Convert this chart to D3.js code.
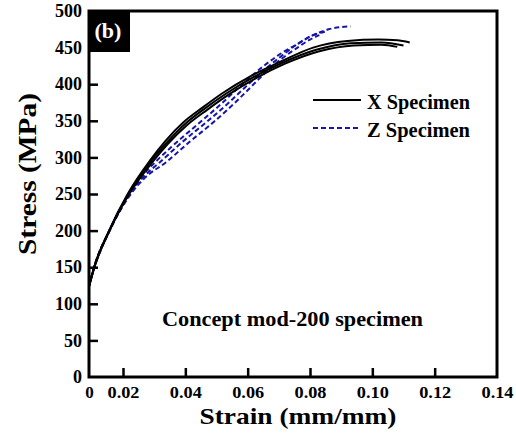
<!DOCTYPE html>
<html>
<head>
<meta charset="utf-8">
<script src="https://cdn.jsdelivr.net/npm/d3@7"></script>
<style>
  body { margin: 0; background: #fff; }
  text { font-family: "Liberation Serif", "Times New Roman", serif; font-weight: bold; }
</style>
</head>
<body>
<svg id="canvas" width="516" height="437"></svg>
<script>
// tick values and labels
const xTicks = [0, 0.02, 0.04, 0.06, 0.08, 0.10, 0.12, 0.14];
const xTickLabels = ["0", "0.02", "0.04", "0.06", "0.08", "0.10", "0.12", "0.14"];
const yTicks = [0, 50, 100, 150, 200, 250, 300, 350, 400, 450, 500];

// X specimen curves (strain, stress)
const x1 = [[0,124],[0.003,150],[0.0118,200],[0.0215,250],[0.0287,296],[0.0335,322],[0.0394,348],[0.0455,368],[0.052,388],[0.061,411],[0.0707,431],[0.081,450],[0.092,459],[0.102,461],[0.108,460],[0.112,457]];
const x2 = [[0,124],[0.0031,150],[0.012,200],[0.0218,250],[0.029,295],[0.034,320],[0.040,346],[0.046,366],[0.053,387],[0.062,410],[0.071,429],[0.082,447],[0.093,456],[0.103,457],[0.110,453]];
const x3 = [[0,123],[0.0032,150],[0.0121,200],[0.022,250],[0.0295,294],[0.0345,319],[0.0405,344],[0.047,365],[0.054,386],[0.063,409],[0.072,428],[0.083,445],[0.094,453],[0.103,454],[0.108,451]];

// Z specimen curves
const z1 = [[0,124],[0.003,150],[0.012,200],[0.022,250],[0.026,274],[0.030,292],[0.036,316],[0.045,349],[0.052,375],[0.058,399],[0.064,421],[0.070,440],[0.076,455],[0.081,467],[0.086,475],[0.093,479]];
const z2 = [[0,124],[0.003,150],[0.012,200],[0.0222,250],[0.0265,273],[0.032,294],[0.039,321],[0.047,349],[0.054,375],[0.060,399],[0.066,422],[0.071,439],[0.076,455],[0.081,467],[0.085,472]];
const z3 = [[0,125],[0.0032,150],[0.0122,200],[0.0225,250],[0.027,272],[0.034,294],[0.041,320],[0.049,348],[0.056,375],[0.061,396],[0.066,417],[0.071,435],[0.076,450],[0.080,461],[0.083,467]];

const legendLabels = ["X Specimen", "Z Specimen"];
const blue = "#1515a8";

const svg = d3.select("#canvas");
const plotLeft = 89, plotRight = 497, plotTop = 11, plotBottom = 377;

// the x axis is squeezed between 0 and 0.02 in the original figure
const xScale = d3.scaleLinear().domain([0, 0.02, 0.14]).range([plotLeft, 123, plotRight]);
const yScale = d3.scaleLinear().domain([0, 500]).range([plotBottom, plotTop]);

const line = d3.line()
    .x(d => xScale(d[0]))
    .y(d => yScale(d[1]))
    .curve(d3.curveMonotoneX);

// curves
[z1, z2, z3].forEach(c => {
    svg.append("path").attr("d", line(c))
        .attr("fill", "none").attr("stroke", blue)
        .attr("stroke-width", 2).attr("stroke-dasharray", "5,3");
});
[x1, x2, x3].forEach(c => {
    svg.append("path").attr("d", line(c))
        .attr("fill", "none").attr("stroke", "#000")
        .attr("stroke-width", 2);
});

// y axis (ticks inside)
const yAxis = d3.axisLeft(yScale).tickValues(yTicks).tickSize(-9).tickPadding(7);
const gy = svg.append("g").attr("transform", `translate(${plotLeft},0)`).call(yAxis);
gy.select(".domain").remove();
gy.selectAll(".tick line").attr("stroke-width", 2.5);
gy.selectAll(".tick text").attr("font-size", 18).attr("fill", "#000");
gy.selectAll(".tick").filter(d => d === 0 || d === 500).select("line").remove();

// x axis (ticks inside)
const xAxis = d3.axisBottom(xScale).tickValues(xTicks)
    .tickFormat((d, i) => xTickLabels[i]).tickSize(-9).tickPadding(9);
const gx = svg.append("g").attr("transform", `translate(0,${plotBottom})`).call(xAxis);
gx.select(".domain").remove();
gx.selectAll(".tick line").attr("stroke-width", 2.5);
gx.selectAll(".tick text").attr("font-size", 17).attr("fill", "#000")
    .attr("textLength", (d, i) => xTickLabels[i].length > 1 ? 32 : null)
    .attr("lengthAdjust", "spacingAndGlyphs");
gx.selectAll(".tick").filter(d => d === 0 || d === 0.14).select("line").remove();

// frame
svg.append("rect").attr("x", plotLeft).attr("y", plotTop)
    .attr("width", plotRight - plotLeft).attr("height", plotBottom - plotTop)
    .attr("fill", "none").attr("stroke", "#000").attr("stroke-width", 3);

// (b) panel label
svg.append("rect").attr("x", plotLeft - 1).attr("y", plotTop - 1).attr("width", 42).attr("height", 42).attr("fill", "#000");
svg.append("text").attr("x", 108).attr("y", 38)
    .attr("text-anchor", "middle").attr("font-size", 22).attr("fill", "#fff").text("(b)");

// axis titles
svg.append("text").attr("x", 298).attr("y", 424)
    .attr("text-anchor", "middle").attr("font-size", 24)
    .attr("textLength", 197).attr("lengthAdjust", "spacingAndGlyphs")
    .text("Strain (mm/mm)");
svg.append("text").attr("transform", "translate(36,174) rotate(-90)")
    .attr("text-anchor", "middle").attr("font-size", 26)
    .attr("textLength", 162).attr("lengthAdjust", "spacingAndGlyphs")
    .text("Stress (MPa)");

// annotation
svg.append("text").attr("x", 162).attr("y", 326)
    .attr("font-size", 20)
    .attr("textLength", 261).attr("lengthAdjust", "spacingAndGlyphs")
    .text("Concept mod-200 specimen");

// legend
const legend = svg.append("g");
legendLabels.forEach((lab, i) => {
    const y = 100 + i * 28;
    legend.append("line").attr("x1", 313).attr("x2", 361).attr("y1", y).attr("y2", y)
        .attr("stroke", i === 0 ? "#000" : blue).attr("stroke-width", 2)
        .attr("stroke-dasharray", i === 0 ? null : "5,3");
    legend.append("text").attr("x", 367).attr("y", y + 9)
        .attr("font-size", 21)
        .attr("textLength", 103).attr("lengthAdjust", "spacingAndGlyphs")
        .text(lab);
});
</script>
</body>
</html>
